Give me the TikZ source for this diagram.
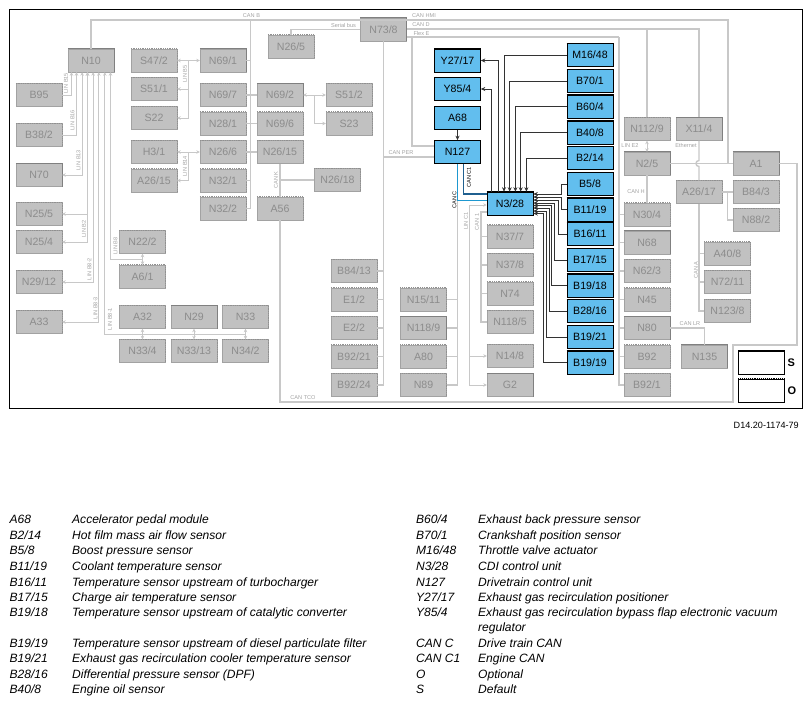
\documentclass[tikz,border=0pt]{standalone}
\usepackage{fontspec}
\usetikzlibrary{arrows.meta}
\setmainfont{Liberation Sans}
\definecolor{busgray}{HTML}{C8C8C8}
\definecolor{boxgray}{HTML}{C1C1C1}
\definecolor{edgegray}{HTML}{808080}
\definecolor{dotgray}{HTML}{909090}
\definecolor{textgray}{HTML}{8C8C8C}
\definecolor{lblgray}{HTML}{A2A2A2}
\definecolor{boxblue}{HTML}{62BEEE}
\definecolor{canlight}{HTML}{1E98D0}
\definecolor{candark}{HTML}{1F5F8F}
\tikzset{
    unit/.style={minimum width=46pt, minimum height=23pt, inner sep=0pt, text height=7.6pt, text depth=0pt, font=\fontsize{10.6}{12}\selectfont},
    grayunit/.style={unit, fill=boxgray, draw=lblgray, line width=0.4pt, text=textgray},
    blueunit/.style={unit, fill=boxblue, draw=black, line width=0.6pt, text=black},
    bus/.style={draw=busgray, line width=1.4pt},
    sig/.style={draw=busgray, line width=1pt, >={Stealth[length=3.5pt, width=3.5pt]}},
    wire/.style={draw=black!80, line width=0.8pt, >={Stealth[length=4.5pt, width=4pt]}},
    buslabel/.style={text=lblgray, inner sep=0pt, font=\fontsize{5.6}{6}\selectfont},
    legendtext/.style={anchor=base west, inner sep=0pt, font=\fontsize{12.05}{14}\selectfont\itshape},
}
\begin{document}
\begin{tikzpicture}[x=1pt, y=-1pt, >=stealth]
    \useasboundingbox (0,0) rectangle (812,705);
    \draw[line width=1pt] (9.5,9.5) rectangle (802.5,408);
    % Gray units, solid edge
    \foreach \n/\x/\y/\l in {N10/91/60.5/N10, N69-1/223/60.5/{N69/1}, N69-2/280/95/{N69/2}, N70/39/175/N70,
            N29/194/317/N29, N73-8/383.5/29.5/{N73/8}, N118-9/423.5/328/{N118/9}, G2/510/385/G2,
            X11-4/699/129/{X11/4}, N2-5/647/163.5/{N2/5}, A1/756/163.5/A1, N68/647/242.5/N68,
            N80/647/328/N80, N135/704.5/356.5/N135} {
            \node[grayunit] (\n) at (\x,\y) {\l};
            \draw[edgegray, line width=1.2pt] (\n.north west) -- (\n.north east) -- (\n.south east);
        }
    % Gray units, dotted edge
    \foreach \n/\x/\y/\l in {S47-2/154/60.5/{S47/2}, B95/39/95/B95, S51-1/154/89/{S51/1}, S22/154/118/S22,
            N69-7/223/95/{N69/7}, B38-2/39/135/{B38/2}, N28-1/223/123.5/{N28/1}, N69-6/280/123.5/{N69/6},
            H3-1/154/152/{H3/1}, N26-6/223/152/{N26/6}, N26-15/280/152/{N26/15}, A26-15/154/180.5/{A26/15},
            N32-1/223/180.5/{N32/1}, N32-2/223/208.5/{N32/2}, A56/280/208.5/A56, N25-5/39/214/{N25/5},
            N25-4/39/242/{N25/4}, N29-12/39/282/{N29/12}, A33/39/322/A33, N22-2/142.5/242/{N22/2},
            A6-1/142.5/276.5/{A6/1}, A32/142.5/317/A32, N33/245.5/317/N33, N33-4/142.5/351/{N33/4},
            N33-13/194/351/{N33/13}, N34-2/245.5/351/{N34/2}, N26-5/291/46.5/{N26/5}, S51-2/349/95/{S51/2},
            S23/349/123.5/S23, N26-18/337.5/180/{N26/18}, N37-7/510/236.5/{N37/7}, N37-8/510/265/{N37/8},
            N74/510/293.5/N74, N118-5/510/322/{N118/5}, N14-8/510/356/{N14/8}, B84-13/354/271/{B84/13},
            E1-2/354/299.5/{E1/2}, E2-2/354/328/{E2/2}, B92-21/354/356.5/{B92/21}, B92-24/354/385/{B92/24},
            N15-11/423.5/299.5/{N15/11}, A80/423.5/356.5/A80, N89/423.5/385/N89, N112-9/647/129/{N112/9},
            A26-17/699/192/{A26/17}, B84-3/756/192/{B84/3}, N88-2/756/220/{N88/2}, N30-4/647/214.5/{N30/4},
            N62-3/647/271/{N62/3}, N45/647/299.5/N45, B92/647/356.5/B92, B92-1/647/385/{B92/1},
            A40-8/727.5/253.5/{A40/8}, N72-11/727.5/282/{N72/11}, N123-8/727.5/311/{N123/8}} {
            \node[grayunit] (\n) at (\x,\y) {\l};
            \draw[dotgray, line width=0.8pt, densely dotted] (\n.north west) -- (\n.north east) -- (\n.south east);
        }
    % Blue units
    \foreach \n/\x/\y/\l in {Y27-17/457.5/60.5/{Y27/17}, Y85-4/457.5/89/{Y85/4}, A68/457.5/118/A68, N127/457.5/152/N127,
            N3-28/510/203.5/{N3/28}, M16-48/590/55/{M16/48}, B70-1/590/81/{B70/1}, B60-4/590/106.5/{B60/4},
            B40-8/590/132.5/{B40/8}, B2-14/590/158/{B2/14}, B5-8/590/184/{B5/8}, B11-19/590/209.5/{B11/19},
            B16-11/590/234/{B16/11}, B17-15/590/260/{B17/15}, B19-18/590/285.7/{B19/18}, B28-16/590/311/{B28/16},
            B19-21/590/337/{B19/21}, B19-19/590/362.7/{B19/19}} {
            \node[blueunit] (\n) at (\x,\y) {\l};
            \draw[black, line width=1.3pt] (\n.north west) -- (\n.north east) -- (\n.south east);
        }
    % Bus corners
    \coordinate (canBtop) at (728,20);
    \coordinate (canBx) at (250.7,20);
    \coordinate (canDl) at (407,29);
    \coordinate (canDr) at (699,29);
    \coordinate (canDn) at (647,29);
    \coordinate (flexE) at (407,37);
    \coordinate (flexL) at (412,37);
    \coordinate (flexR) at (619,37);
    \coordinate (a1bus) at (728,163.5);
    \coordinate (tcoA) at (797,345);
    \coordinate (tcoB) at (733,345);
    \coordinate (tcoC) at (733,402);
    \coordinate (tcoD) at (280,402);
    \coordinate (canAx) at (699,220);
    \coordinate (n88x) at (727.5,192);
    \coordinate (canCj) at (457.5,201);
    \coordinate (canOne) at (481,212);
    \coordinate (linC) at (469,205);
    \coordinate (linB81) at (245.5,334);
    \coordinate (linB8) at (142.5,259);
    \coordinate (lrx) at (704.5,328);
    \coordinate (k51) at (314,95);
    \coordinate (k47) at (188,60.5);
    \coordinate (k3) at (188,152);
    \coordinate (hopA) at (699,160.5);
    \coordinate (hopB) at (699,166.5);
    % CAN buses
    \draw[bus] (N10.north) |- (canBtop) -- (a1bus);
    \draw[bus] (N26-5.north) |- (N73-8.west);
    \draw[bus] (canDl) -- (canDr) -- (X11-4.north);
    \draw[bus] (N112-9.north) -- (canDn);
    \draw[bus] (flexE) -- (flexR);
    \draw[bus] (flexL) |- ([yshift=6pt]N127.west);
    \foreach \n in {N69-1, N69-7, N28-1, N26-6, N32-1, N32-2} {
            \draw[bus] (\n.east) -| (canBx);
        }
    \draw[bus] (N69-7.east) -- (N69-2.west);
    \draw[bus] (N28-1.east) -- (N69-6.west);
    \draw[bus] (N26-6.east) -- (N26-15.west);
    \draw[bus] (N26-15.south) -- (A56.north);
    \draw[bus] (N26-18.west) -| (N26-15.south);
    \draw[bus] ([yshift=-5pt]N127.west) -| (N73-8.south);
    \foreach \n in {B84-13, E1-2, E2-2, B92-21, B92-24} {
            \draw[bus] (\n.east) -| (N73-8.south);
        }
    \foreach \n in {N15-11, N118-9, A80, N89} {
            \draw[bus] (\n.east) -| (canCj);
        }
    \foreach \n in {N30-4, N68, N62-3, N45, N80, B92, B92-1} {
            \draw[bus] (\n.west) -| (flexR);
        }
    \draw[bus] (N2-5.south) -- (N30-4.north);
    \draw[bus] (N2-5.east) -- (A1.west);
    \draw[bus] (X11-4.south) -- (hopA) .. controls (695,160.5) and (695,166.5) .. (hopB) -- (A26-17.north);
    \draw[bus] (A26-17.east) -- (B84-3.west);
    \draw[bus] (N88-2.west) -| (n88x);
    \draw[bus] (A26-17.south) -- (canAx);
    \foreach \n in {A40-8, N72-11, N123-8} {
            \draw[bus] (\n.west) -| (canAx);
        }
    \draw[bus] (N80.east) -- (lrx) -- (N135.north);
    \draw[bus] (A1.east) -| (tcoA) -- (tcoB) -- (tcoC) -- (tcoD) -- (A56.south);
    % LIN lines
    \foreach \d/\t/\tip in {3.7/B95/<-, 8.7/B38-2/<-, 14.3/N70/<->, 19.7/N25-5/<->, 19.7/N25-4/<->, 25.3/N29-12/<->, 31/A33/<->} {
            \draw[sig, \tip] ([xshift=\d pt]N10.south west) |- (\t.east);
        }
    \draw[sig, <-] ([xshift=37pt]N10.south west) |- (linB81);
    \draw[sig, <-] ([xshift=42.7pt]N10.south west) |- (linB8);
    \draw[sig, <->] (N22-2.south) -- (A6-1.north);
    \foreach \a/\b in {A32/N33-4, N29/N33-13, N33/N34-2} {
            \draw[sig, <->] (\a.south) -- (\b.north);
        }
    \draw[sig, <->] (S47-2.east) -- (N69-1.west);
    \draw[sig, ->] (k47) |- (S51-1.east);
    \draw[sig, ->] (k47) |- (S22.east);
    \draw[sig, <->] (H3-1.east) -- (N26-6.west);
    \draw[sig, ->] (k3) |- (A26-15.east);
    \draw[sig, <->] (N69-2.east) -- (S51-2.west);
    \draw[sig, ->] (k51) |- (S23.west);
    \draw[sig, <->] (N112-9.south) -- (N2-5.north);
    \draw[sig, <-] ([yshift=-1.5pt]N3-28.west) -- (linC);
    \draw[sig, ->] (linC) |- (N14-8.west);
    \draw[sig, ->] (linC) |- (G2.west);
    \draw[bus] (N3-28.west |- canOne) -- (canOne) |- (N118-5.west);
    \foreach \n in {N37-7, N37-8, N74} {
            \draw[bus] (\n.west) -| (canOne);
        }
    % Drive train and engine CAN
    \draw[draw=canlight, line width=1.8pt] (N127.south) |- ([yshift=3pt]N3-28.west);
    \draw[draw=candark, line width=1.8pt] ([xshift=6pt]N127.south) |- ([yshift=9.5pt]N3-28.west);
    % Sensor wires
    \draw[wire, ->] (A68.south) -- (N127.north);
    \foreach \t/\d in {M16-48/17.3, B70-1/23, B60-4/28.7, B40-8/34, B2-14/39.7} {
            \draw[wire, ->] (\t.west) -| ([xshift=\d pt]N3-28.north west);
        }
    \foreach \t/\d in {Y27-17/11.7, Y85-4/5} {
            \draw[wire, <-] (\t.east) -| ([xshift=\d pt]N3-28.north west);
        }
    \foreach \t/\d/\o in {B5-8/9.5/5.3, B11-19/6.5/5.3, B16-11/3.5/8.7, B17-15/0.5/12, B19-18/-2/15.3, B28-16/-4.5/17, B19-21/-7.5/20.3, B19-19/-10/23.7} {
            \draw[wire, <-] ([yshift=\d pt]N3-28.east) -| ([xshift=-\o pt]\t.west) -- (\t.west);
        }
    % Bus labels
    \foreach \x/\y/\l [count=\i] in {251.5/16/CAN B, 343.5/25/Serial bus, 424/16/CAN HMI, 421/25/CAN D, 421.5/33.5/Flex E,
            401/153/CAN PER, 303/398/CAN TCO, 636/192/CAN H, 630/146/LIN E2, 686/145/Ethernet, 690/324/CAN LR} {
            \node[buslabel] (lbl\i) at (\x,\y) {\l};
        }
    \foreach \x/\y/\l [count=\i] in {66/83/LIN B15, 72.5/120/LIN B16, 78.5/160/LIN B13, 84/229/LIN B2, 89.5/269/LIN B8-2,
            95.5/308/LIN B8-3, 110/319/LIN B8-1, 115.5/246/LIN B8, 185/74/LIN B5, 185/166/LIN B14, 276/180/CAN K,
            466/221/LIN C1, 477/222/CAN 1, 696/270/CAN A} {
            \node[buslabel, rotate=90] (rot\i) at (\x,\y) {\l};
        }
    \node[buslabel, rotate=90, text=black] (lblC) at (454.5,200) {CAN C};
    \node[buslabel, rotate=90, text=black] (lblCone) at (469,177.5) {CAN C1};
    % Key
    \node[minimum width=46pt, minimum height=23pt, inner sep=0pt, draw=black, line width=0.4pt] (keyS) at (761.5,362.5) {};
    \draw[black, line width=1.3pt] (keyS.north west) -- (keyS.north east) -- (keyS.south east);
    \node[minimum width=46pt, minimum height=23pt, inner sep=0pt, draw=black, line width=0.4pt] (keyO) at (761.5,390.5) {};
    \draw[black, line width=0.9pt, densely dotted] (keyO.north west) -- (keyO.north east) -- (keyO.south east);
    \node[anchor=west, inner sep=0pt, font=\fontsize{11}{12}\selectfont\bfseries] (keySt) at (787.5,363) {S};
    \node[anchor=west, inner sep=0pt, font=\fontsize{11}{12}\selectfont\bfseries] (keyOt) at (787.5,390.5) {O};
    \node[anchor=east, inner sep=0pt, font=\fontsize{9.1}{10}\selectfont] (docno) at (799,425) {D14.20-1174-79};
    % Legend, left side
    \foreach \y/\k/\l [count=\i] in {523.5/A68/Accelerator pedal module, 539/{B2/14}/Hot film mass air flow sensor,
            554.5/{B5/8}/Boost pressure sensor, 570.5/{B11/19}/Coolant temperature sensor,
            586/{B16/11}/Temperature sensor upstream of turbocharger, 601/{B17/15}/Charge air temperature sensor,
            616.5/{B19/18}/Temperature sensor upstream of catalytic converter,
            647.5/{B19/19}/Temperature sensor upstream of diesel particulate filter,
            662.5/{B19/21}/Exhaust gas recirculation cooler temperature sensor,
            678/{B28/16}/Differential pressure sensor (DPF), 693/{B40/8}/Engine oil sensor} {
            \node[legendtext] (lk\i) at (9.5,\y) {\k};
            \node[legendtext] (lt\i) at (72,\y) {\l};
        }
    % Legend, right side
    \foreach \y/\k/\l [count=\i] in {523.5/{B60/4}/Exhaust back pressure sensor, 539/{B70/1}/Crankshaft position sensor,
            554.5/{M16/48}/Throttle valve actuator, 570.5/{N3/28}/CDI control unit, 586/N127/Drivetrain control unit,
            601/{Y27/17}/Exhaust gas recirculation positioner,
            616.5/{Y85/4}/Exhaust gas recirculation bypass flap electronic vacuum,
            647.5/CAN C/Drive train CAN, 662.5/CAN C1/Engine CAN, 678/O/Optional, 693/S/Default} {
            \node[legendtext] (rk\i) at (416,\y) {\k};
            \node[legendtext] (rt\i) at (478,\y) {\l};
        }
    \node[legendtext] (rt12) at (478,631) {regulator};
\end{tikzpicture}
\end{document}
